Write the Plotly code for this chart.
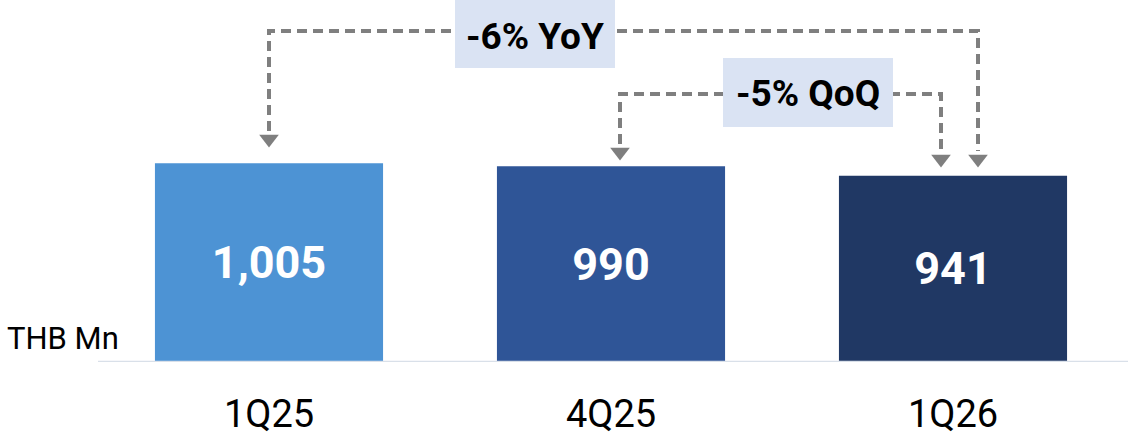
import plotly.graph_objects as go

# Quarterly figures (THB Mn)
quarters = ["1Q25", "4Q25", "1Q26"]
values = [1005, 990, 941]
bar_colors = ["#4D93D4", "#2F5597", "#203864"]

yoy_label = "-6% YoY"
qoq_label = "-5% QoQ"

# Layout geometry
W, H = 1128, 438
M_L, M_R, M_T, M_B = 98, 4, 0, 76
Y_MAX = 1830
plot_h = H - M_T - M_B
plot_w = W - M_L - M_R
n = len(quarters)
pos = list(range(n))


def ypx(py):
    """Pixel row -> y-axis value."""
    return (H - M_B - py) / plot_h * Y_MAX


def xpx(px):
    """Pixel column -> x-axis position."""
    return (px - M_L) / (plot_w / n) - 0.5


def xpaper(px):
    return (px - M_L) / plot_w


GREY = "#7F7F7F"
DASH = "10px,6px"
BOX = "#DAE3F3"
FONT = "Roboto"

fig = go.Figure()

fig.add_trace(go.Bar(
    x=pos, y=values,
    marker=dict(color=bar_colors, line=dict(width=0)),
    texttemplate="%{y:,}",
    textposition="inside",
    insidetextanchor="middle",
    textangle=0,
    textfont=dict(family=FONT, size=45, color="white", weight="bold"),
    width=0.667,
    hoverinfo="skip",
))

# Dashed connectors between bars
tri = 8  # half the arrowhead height in px
yoy_y = ypx(31)
qoq_y = ypx(94)
x_yoy_l, x_yoy_r = pos[0], xpx(978)
x_qoq_l, x_qoq_r = xpx(620), xpx(941)

paths = [
    ([x_yoy_l, x_yoy_l, x_yoy_r, x_yoy_r],
     [ypx(147 - 2 * tri), yoy_y, yoy_y, ypx(167 - 2 * tri)]),
    ([x_qoq_l, x_qoq_l, x_qoq_r, x_qoq_r],
     [ypx(160 - 2 * tri), qoq_y, qoq_y, ypx(167 - 2 * tri)]),
]
for xs, ys in paths:
    fig.add_trace(go.Scatter(
        x=xs, y=ys, mode="lines",
        line=dict(color=GREY, width=4, dash=DASH),
        hoverinfo="skip", cliponaxis=False,
    ))

fig.add_trace(go.Scatter(
    x=[x_yoy_l, x_yoy_r, x_qoq_l, x_qoq_r],
    y=[ypx(147 - tri), ypx(167 - tri), ypx(160 - tri), ypx(167 - tri)],
    mode="markers",
    marker=dict(symbol="triangle-down", size=17, color=GREY, line=dict(width=0)),
    hoverinfo="skip", cliponaxis=False,
))

shapes = [
    # baseline
    dict(type="line", xref="paper", yref="y", x0=0, x1=1.01, y0=0, y1=0,
         line=dict(color="#D9E0E9", width=2.5), layer="above"),
    # label boxes
    dict(type="rect", xref="paper", yref="y",
         x0=xpaper(455), x1=xpaper(615), y0=ypx(68), y1=ypx(0),
         fillcolor=BOX, line=dict(width=0), layer="above"),
    dict(type="rect", xref="paper", yref="y",
         x0=xpaper(723), x1=xpaper(893), y0=ypx(127), y1=ypx(58),
         fillcolor=BOX, line=dict(width=0), layer="above"),
]

annotations = [
    dict(text=yoy_label, xref="paper", yref="y", x=xpaper(535), y=ypx(36),
         showarrow=False, xanchor="center", yanchor="middle",
         font=dict(family=FONT, size=37, color="black", weight="bold")),
    dict(text=qoq_label, xref="paper", yref="y", x=xpaper(808), y=ypx(93),
         showarrow=False, xanchor="center", yanchor="middle",
         font=dict(family=FONT, size=37, color="black", weight="bold")),
    dict(text="THB Mn", xref="paper", yref="y", x=xpaper(5), y=ypx(338),
         showarrow=False, xanchor="left", yanchor="middle",
         font=dict(family=FONT, size=31, color="black")),
]

fig.update_layout(
    width=W, height=H,
    margin=dict(l=M_L, r=M_R, t=M_T, b=M_B),
    paper_bgcolor="white", plot_bgcolor="white",
    showlegend=False,
    shapes=shapes,
    annotations=annotations,
    xaxis=dict(range=[-0.5, n - 0.5], tickvals=pos, ticktext=quarters,
               showgrid=False, showline=False, zeroline=False, ticks="",
               tickfont=dict(family=FONT, size=38, color="black"),
               ticklabelstandoff=26),
    yaxis=dict(range=[0, Y_MAX], visible=False, showgrid=False, zeroline=False),
)

fig.write_html("out.html")
